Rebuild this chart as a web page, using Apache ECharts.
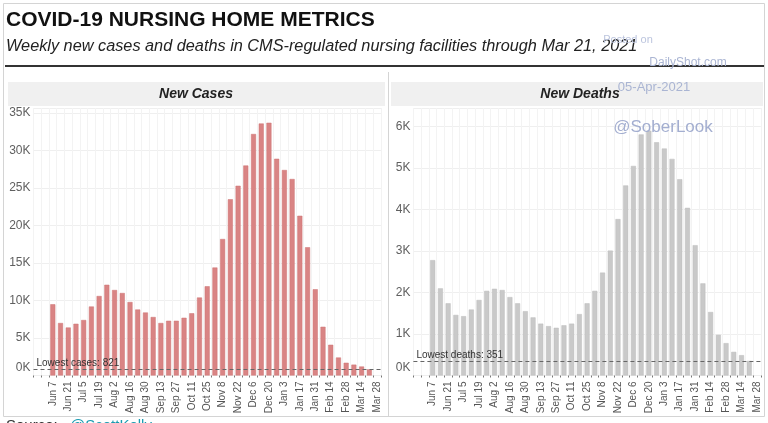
<!DOCTYPE html>
<html>
<head>
<meta charset="utf-8">
<script src="https://cdn.jsdelivr.net/npm/echarts@6/dist/echarts.min.js"></script>
<style>
html,body{margin:0;padding:0;background:#fff;}
#chart{width:768px;height:423px;}
</style>
</head>
<body>
<div id="chart"></div>
<script>
// Week axis (week ending dates); the axis spans two weeks before the first bar and one after the last
const weeks = ['May 24','May 31','Jun 7','Jun 14','Jun 21','Jun 28','Jul 5','Jul 12','Jul 19','Jul 26','Aug 2','Aug 9','Aug 16','Aug 23','Aug 30','Sep 6','Sep 13','Sep 20','Sep 27','Oct 4','Oct 11','Oct 18','Oct 25','Nov 1','Nov 8','Nov 15','Nov 22','Nov 29','Dec 6','Dec 13','Dec 20','Dec 27','Jan 3','Jan 10','Jan 17','Jan 24','Jan 31','Feb 7','Feb 14','Feb 21','Feb 28','Mar 7','Mar 14','Mar 21','Mar 28'];
// Weekly values Jun 7 .. Mar 21
const newCases = [9500,7000,6400,6900,7400,9200,10600,12100,11400,11000,9800,8800,8400,7800,7000,7300,7300,7700,8300,10400,11900,14400,18200,23500,25300,28000,32200,33600,33700,28900,27400,26200,21300,17100,11500,6500,4100,2400,1700,1450,1200,821];
const newDeaths = [2780,2100,1740,1460,1430,1590,1820,2040,2090,2060,1890,1740,1550,1400,1250,1190,1150,1210,1250,1480,1740,2040,2480,3010,3770,4580,5050,5810,5900,5620,5470,5220,4730,4040,3140,2220,1530,980,780,570,490,351];
const lowestCases = 821;
const lowestDeaths = 351;
const casesTicks = [0,5000,10000,15000,20000,25000,30000,35000];
const deathsTicks = [0,1000,2000,3000,4000,5000,6000];

const lead = [null, null];
const trail = [null];
const casesData = lead.concat(newCases, trail);
const deathsData = lead.concat(newDeaths, trail);

const FONT = "'Liberation Sans', Arial, sans-serif";
const chart = echarts.init(document.getElementById('chart'), null, {renderer: 'canvas'});

function yLabel(ticks) {
  return function (v) {
    if (ticks.indexOf(v) < 0) return '';
    const t = (v / 1000) + 'K';
    return v === 0 ? '{z|' + t + '}' : t;
  };
}
const yAxisCommon = {
  type: 'value', min: 0,
  axisLine: {show: false}, axisTick: {show: false},
  splitLine: {show: true, lineStyle: {color: '#efefef', width: 1}},
  axisLabel: {
    color: '#5f5f5f', fontSize: 12, fontFamily: FONT, margin: 3, showMaxLabel: false,
    rich: {z: {color: '#5f5f5f', fontSize: 12, fontFamily: FONT, padding: [0, 0, 16, 0]}}
  }
};
const xAxisCommon = {
  type: 'category', data: weeks, boundaryGap: true,
  axisLine: {show: false},
  axisTick: {show: true, interval: 0, length: 2, lineStyle: {color: '#777', width: 1}},
  splitLine: {show: true, interval: 0, lineStyle: {color: '#f3f3f3', width: 1}},
  axisLabel: {
    rotate: 90, fontSize: 10, color: '#555', fontFamily: FONT, margin: 6,
    interval: function (idx) { return idx >= 2 && idx % 2 === 0; }
  }
};
function lowLine(val, text) {
  return {
    silent: true, symbol: 'none',
    lineStyle: {color: '#666', type: [4, 3], width: 1},
    label: {show: true, position: 'insideStartTop', formatter: text, color: '#333', fontSize: 10, fontFamily: FONT, distance: [3, 1]},
    data: [{yAxis: val}]
  };
}

const option = {
  backgroundColor: '#fff',
  animation: false,
  title: [
    {text: 'COVID-19 NURSING HOME METRICS', left: 6, top: 10, padding: 0,
     textStyle: {fontFamily: FONT, fontWeight: 'bold', fontSize: 21, color: '#111'}},
    {text: 'Weekly new cases and deaths in CMS-regulated nursing facilities through Mar 21, 2021', left: 6, top: 38, padding: 0,
     textStyle: {fontFamily: FONT, fontStyle: 'italic', fontWeight: 'normal', fontSize: 16.3, color: '#222'}}
  ],
  graphic: [
    {type: 'rect', shape: {x: 3.5, y: 3.5, width: 761, height: 413}, style: {fill: 'none', stroke: '#d4d4d4', lineWidth: 1}, z: -10},
    {type: 'line', shape: {x1: 388.5, y1: 72, x2: 388.5, y2: 416}, style: {stroke: '#d4d4d4', lineWidth: 1}, z: -10},
    {type: 'line', shape: {x1: 5, y1: 66, x2: 764, y2: 66}, style: {stroke: '#333', lineWidth: 2}},
    {type: 'rect', shape: {x: 8, y: 82, width: 377, height: 24}, style: {fill: '#f0f0f0'}, z: -5},
    {type: 'rect', shape: {x: 391, y: 82, width: 372, height: 24}, style: {fill: '#f0f0f0'}, z: -5},
    {type: 'text', x: 196, y: 94, style: {text: 'New Cases', font: "italic bold 14px 'Liberation Sans', Arial, sans-serif", fill: '#222', align: 'center', verticalAlign: 'middle'}},
    {type: 'text', x: 580, y: 94, style: {text: 'New Deaths', font: "italic bold 14px 'Liberation Sans', Arial, sans-serif", fill: '#222', align: 'center', verticalAlign: 'middle'}},
    // watermark
    {type: 'text', x: 628, y: 40, z: 50, style: {text: 'Posted on', font: "11px 'Liberation Sans', Arial, sans-serif", fill: '#bcc5de', align: 'center', verticalAlign: 'middle'}},
    {type: 'text', x: 688, y: 63, z: 50, style: {text: 'DailyShot.com', font: "12px 'Liberation Sans', Arial, sans-serif", fill: '#aab5d3', align: 'center', verticalAlign: 'middle'}},
    {type: 'text', x: 654, y: 87, z: 50, style: {text: '05-Apr-2021', font: "13px 'Liberation Sans', Arial, sans-serif", fill: '#aab5d3', align: 'center', verticalAlign: 'middle'}},
    {type: 'text', x: 663, y: 127, z: 50, style: {text: '@SoberLook', font: "17px 'Liberation Sans', Arial, sans-serif", fill: '#a3aed0', align: 'center', verticalAlign: 'middle'}},
    // source (cut at bottom)
    {type: 'text', x: 6, y: 418, style: {text: 'Source:', font: "15px 'Liberation Sans', Arial, sans-serif", fill: '#333', align: 'left', verticalAlign: 'top'}},
    {type: 'text', x: 70, y: 418, style: {text: '@ScottKelly', font: "15px 'Liberation Sans', Arial, sans-serif", fill: '#1a9bb0', align: 'left', verticalAlign: 'top'}}
  ],
  grid: [
    {left: 33.5, width: 347.4, top: 108, bottom: 47.5, containLabel: false, outerBoundsMode: 'none'},
    {left: 413.4, width: 347.4, top: 108, bottom: 47.5, containLabel: false, outerBoundsMode: 'none'}
  ],
  xAxis: [
    Object.assign({gridIndex: 0}, xAxisCommon),
    Object.assign({gridIndex: 1}, xAxisCommon)
  ],
  yAxis: [
    Object.assign({}, yAxisCommon, {gridIndex: 0, max: 35667, interval: 5000, axisLabel: Object.assign({}, yAxisCommon.axisLabel, {formatter: yLabel(casesTicks)})}),
    Object.assign({}, yAxisCommon, {gridIndex: 1, max: 6446, interval: 1000, axisLabel: Object.assign({}, yAxisCommon.axisLabel, {formatter: yLabel(deathsTicks)})})
  ],
  series: [
    {type: 'bar', name: 'New Cases', xAxisIndex: 0, yAxisIndex: 0, data: casesData, barWidth: 5,
     itemStyle: {color: '#d98484', borderColor: '#cf7474', borderWidth: 0.5},
     markLine: lowLine(lowestCases, 'Lowest cases: ' + lowestCases)},
    {type: 'bar', name: 'New Deaths', xAxisIndex: 1, yAxisIndex: 1, data: deathsData, barWidth: 5,
     itemStyle: {color: '#c9c9c9', borderColor: '#bdbdbd', borderWidth: 0.5},
     markLine: lowLine(lowestDeaths, 'Lowest deaths: ' + lowestDeaths)}
  ]
};
chart.setOption(option);
</script>
</body>
</html>
